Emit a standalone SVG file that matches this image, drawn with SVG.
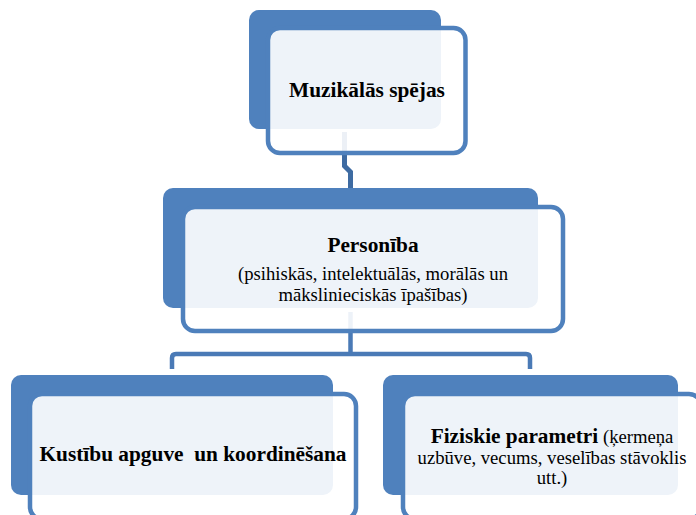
<svg xmlns="http://www.w3.org/2000/svg" width="696" height="515" viewBox="0 0 696 515">
  <style>
    .back { fill: #4F81BD; }
    .front { fill: #FFFFFF; fill-opacity: 0.9; stroke: #4F81BD; stroke-width: 4.5; }
    .conn { fill: none; stroke: #4A7AB6; stroke-width: 4.5; stroke-linejoin: round; }
    .conn-dark { fill: none; stroke: #3E6BA2; stroke-width: 5; }
    text { fill: #000000; text-anchor: middle; }
    .title { font-weight: bold; font-size: 21.33px; }
    .sub { font-size: 18.67px; }
  </style>

  <!-- connectors sit behind the boxes -->
  <g id="connectors">
    <path class="conn-dark" d="M344.5,132 V166 L350.5,172 V192"/>
    <path class="conn" d="M350.5,312 V354"/>
    <path class="conn" d="M172,369 V358 Q172,354 176,354 H526 Q530,354 530,358 V369"/>
  </g>

  <g font-family="'Liberation Serif', 'Times New Roman', serif">
    <g id="node-muzikalas-spejas">
      <rect class="back" x="249" y="10" width="192" height="119" rx="10"/>
      <rect class="front" x="268" y="28" width="197.5" height="125" rx="12"/>
      <text class="title" x="367" y="96.5">Muzikālās spējas</text>
    </g>

    <g id="node-personiba">
      <rect class="back" x="163" y="188" width="375" height="120" rx="10"/>
      <rect class="front" x="183" y="207" width="380" height="124" rx="12"/>
      <text class="title" x="373" y="252">Personība</text>
      <text class="sub" x="373" y="280">(psihiskās, intelektuālās, morālās un</text>
      <text class="sub" x="373" y="301">mākslinieciskās īpašības)</text>
    </g>

    <g id="node-kustibu-apguve">
      <rect class="back" x="11" y="375" width="322" height="120" rx="10"/>
      <rect class="front" x="30" y="394" width="326" height="125" rx="12"/>
      <text class="title" x="193" y="461" style="white-space: pre">Kustību apguve  un koordinēšana</text>
    </g>

    <g id="node-fiziskie-parametri">
      <rect class="back" x="383" y="375" width="295" height="120" rx="10"/>
      <rect class="front" x="403" y="394" width="298" height="125" rx="12"/>
      <text x="552" y="443"><tspan class="title">Fiziskie parametri</tspan><tspan class="sub"> (ķermeņa</tspan></text>
      <text class="sub" x="552" y="464">uzbūve, vecums, veselības stāvoklis</text>
      <text class="sub" x="552" y="484">utt.)</text>
    </g>
  </g>
</svg>
